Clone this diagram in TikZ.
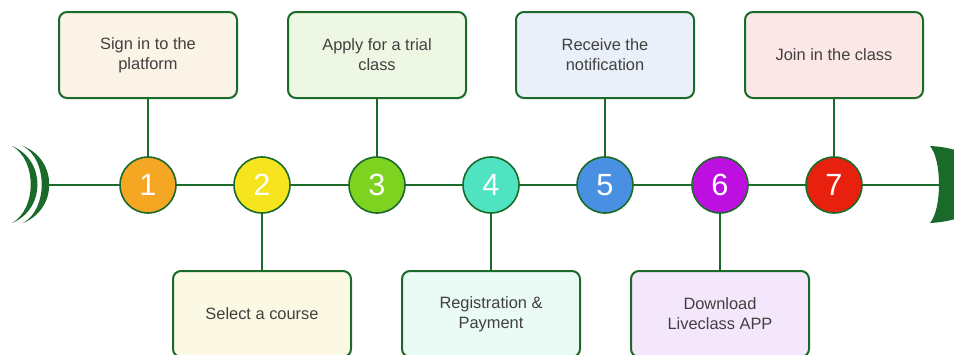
\documentclass[tikz,border=0pt]{standalone}
\usepackage{fontspec}
\setmainfont{Liberation Sans}
\definecolor{lg}{HTML}{1A6B2A}
\definecolor{txt}{HTML}{404040}
\definecolor{c1}{HTML}{F5A623}
\definecolor{c2}{HTML}{F5E41E}
\definecolor{c3}{HTML}{7ED321}
\definecolor{c4}{HTML}{50E3C2}
\definecolor{c5}{HTML}{4A90E2}
\definecolor{c6}{HTML}{BD10E0}
\definecolor{c7}{HTML}{E8210F}
\definecolor{f1}{HTML}{FBF3E6}
\definecolor{f2}{HTML}{FBF9E4}
\definecolor{f3}{HTML}{EEF7E4}
\definecolor{f4}{HTML}{EAFAF5}
\definecolor{f5}{HTML}{E9F0FA}
\definecolor{f6}{HTML}{F5E7FB}
\definecolor{f7}{HTML}{FBE7E5}
\begin{document}
\begin{tikzpicture}[x=0.75pt,y=-0.75pt,
  lin/.style={draw=lg, line width=1.5pt},
  box/.style={draw=lg, line width=1.5pt, rounded corners=6pt, minimum width=133.5pt, minimum height=64.5pt, align=center, font=\fontsize{12.3}{15}\selectfont, text=txt, inner sep=0pt},
  num/.style={circle, draw=lg, line width=1.2pt, minimum size=42pt, inner sep=0pt, text=white, font=\fontsize{23}{23}\selectfont}]
\useasboundingbox (0,0) rectangle (954,354);
\clip (0,0) rectangle (954,354);
% end marks
\fill[lg] (12,146) .. controls (46,160) and (46,209) .. (12,223) .. controls (37,209) and (37,160) .. (12,146) -- cycle;
\fill[lg] (23,146) .. controls (58,160) and (58,209) .. (23,223) .. controls (48,209) and (48,160) .. (23,146) -- cycle;
\fill[lg] (930,146) .. controls (1010,150) and (1010,219) .. (930,223) .. controls (942,209) and (942,160) .. (930,146) -- cycle;
\coordinate (L) at (48,185);
\coordinate (R) at (939,185);
\draw[lin] (L) -- (R);
% circles
\node[num, fill=c1] (n1) at (148,185) {1};
\node[num, fill=c2] (n2) at (262,185) {2};
\node[num, fill=c3] (n3) at (377,185) {3};
\node[num, fill=c4] (n4) at (491,185) {4};
\node[num, fill=c5] (n5) at (605,185) {5};
\node[num, fill=c6] (n6) at (720,185) {6};
\node[num, fill=c7] (n7) at (834,185) {7};
% boxes
\node[box, fill=f1] (b1) at (148,55) {Sign in to the\\platform};
\node[box, fill=f2] (b2) at (262,314) {Select a course};
\node[box, fill=f3] (b3) at (377,55) {Apply for a trial\\class};
\node[box, fill=f4] (b4) at (491,314) {Registration \&\\Payment};
\node[box, fill=f5] (b5) at (605,55) {Receive the\\notification};
\node[box, fill=f6] (b6) at (720,314) {Download\\Liveclass APP};
\node[box, fill=f7] (b7) at (834,55) {Join in the class};
% connectors
\draw[lin] (b1.south) -- (n1.north);
\draw[lin] (n2.south) -- (b2.north);
\draw[lin] (b3.south) -- (n3.north);
\draw[lin] (n4.south) -- (b4.north);
\draw[lin] (b5.south) -- (n5.north);
\draw[lin] (n6.south) -- (b6.north);
\draw[lin] (b7.south) -- (n7.north);
\end{tikzpicture}
\end{document}
